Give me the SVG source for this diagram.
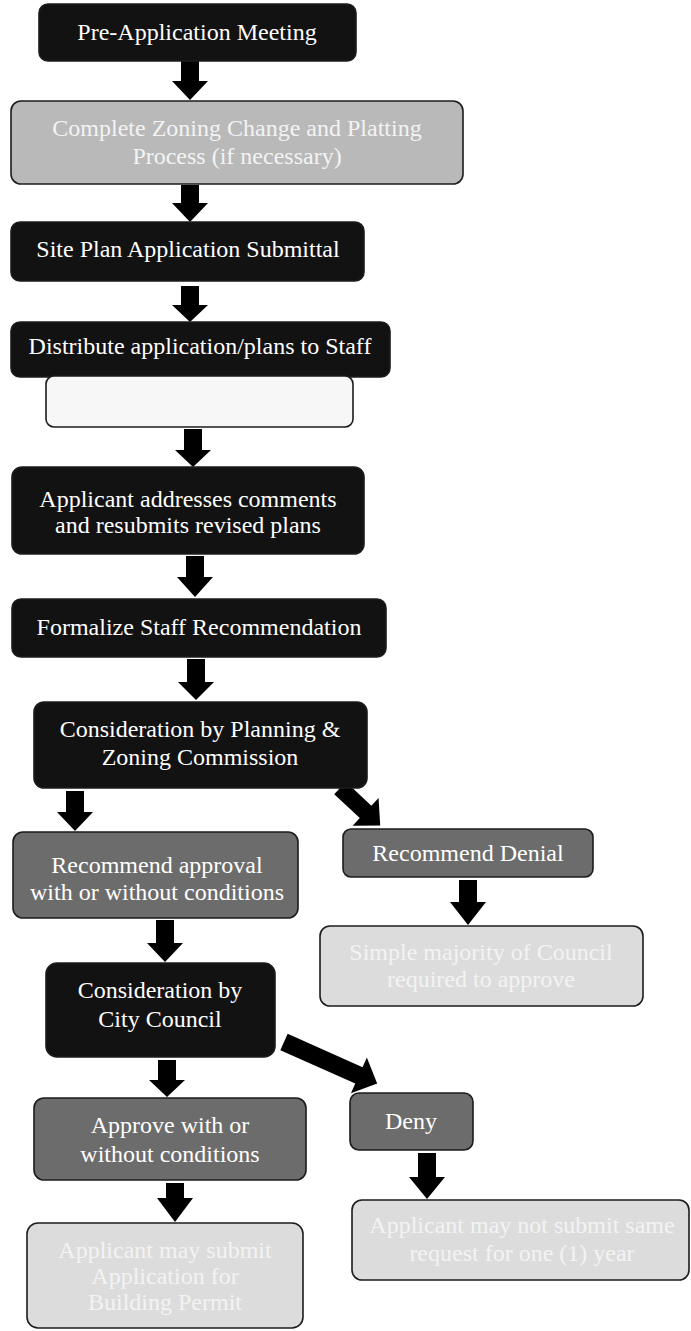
<svg xmlns="http://www.w3.org/2000/svg" width="691" height="1331" viewBox="0 0 691 1331">
<style>
.box{stroke:#1c1c1c;stroke-width:1.6}
.dark{fill:#121212}
.mid{fill:#6c6c6c}
.grey{fill:#b9b9b9}
.light{fill:#dcdcdc}
.white{fill:#f7f7f7}
.arr{fill:#000}
text{font-family:"Liberation Serif","Times New Roman",serif;font-size:24px;text-anchor:middle}
.t{fill:#ffffff}
.tl{fill:#f3f3f3}
</style>
<rect width="691" height="1331" fill="#ffffff"/>
<g id="connectors">
<polygon class="arr" points="181,61 199,61 199,81 208,81 190,100 172,81 181,81"/>
<polygon class="arr" points="181,185 199,185 199,203 208,203 190,222 172,203 181,203"/>
<polygon class="arr" points="181,286 199,286 199,305 208,305 190,322 172,305 181,305"/>
<polygon class="arr" points="184,429 202,429 202,450 211,450 193,467 175,450 184,450"/>
<polygon class="arr" points="186,556 204,556 204,577 213,577 195,597 177,577 186,577"/>
<polygon class="arr" points="187,659 205,659 205,682 214,682 196,700 178,682 187,682"/>
<polygon class="arr" points="66,791 84,791 84,812 93,812 75,831 57,812 66,812"/>
<polygon class="arr" transform="translate(340,788) rotate(43)" points="0,-8.5 35,-8.5 35,-19 55,0 35,19 35,8.5 0,8.5"/>
<polygon class="arr" points="459,880 477,880 477,902 486,902 468,925 450,902 459,902"/>
<polygon class="arr" points="156,920 174,920 174,943 183,943 165,962 147,943 156,943"/>
<polygon class="arr" points="158,1060 176,1060 176,1080 185,1080 167,1097 149,1080 158,1080"/>
<polygon class="arr" transform="translate(284,1042) rotate(24)" points="0,-9 82,-9 82,-19.5 102,0 82,19.5 82,9 0,9"/>
<polygon class="arr" points="418,1153 436,1153 436,1177 445,1177 427,1199 409,1177 418,1177"/>
<polygon class="arr" points="166,1183 184,1183 184,1198 193,1198 175,1222 157,1198 166,1198"/>
</g>
<g id="n-preapp">
<rect class="box dark" x="39" y="4" width="317" height="57" rx="9"/>
<text class="t" x="197" y="40">Pre-Application Meeting</text>
</g>
<g id="n-zoning">
<rect class="box grey" x="11" y="101" width="452" height="83" rx="10"/>
<text class="tl" x="237" y="136">Complete Zoning Change and Platting</text>
<text class="tl" x="237" y="164">Process (if necessary)</text>
</g>
<g id="n-siteplan">
<rect class="box dark" x="11" y="222" width="353" height="59" rx="9"/>
<text class="t" x="188" y="257">Site Plan Application Submittal</text>
</g>
<g id="n-distribute">
<rect class="box dark" x="11" y="322" width="379" height="55" rx="9"/>
<text class="t" x="200" y="354">Distribute application/plans to Staff</text>
</g>
<g id="n-blank">
<rect class="box white" x="46" y="376" width="307" height="51" rx="8"/>
</g>
<g id="n-addresses">
<rect class="box dark" x="12" y="467" width="352" height="87" rx="10"/>
<text class="t" x="188" y="507">Applicant addresses comments</text>
<text class="t" x="188" y="533">and resubmits revised plans</text>
</g>
<g id="n-formalize">
<rect class="box dark" x="12" y="599" width="374" height="58" rx="9"/>
<text class="t" x="199" y="635">Formalize Staff Recommendation</text>
</g>
<g id="n-pz">
<rect class="box dark" x="34" y="702" width="333" height="86" rx="10"/>
<text class="t" x="200" y="737">Consideration by Planning &amp;</text>
<text class="t" x="200" y="765">Zoning Commission</text>
</g>
<g id="n-recapprove">
<rect class="box mid" x="13" y="832" width="285" height="86" rx="10"/>
<text class="t" x="157" y="873">Recommend approval</text>
<text class="t" x="157" y="900">with or without conditions</text>
</g>
<g id="n-recdeny">
<rect class="box mid" x="343" y="829" width="250" height="48" rx="8"/>
<text class="t" x="468" y="861">Recommend Denial</text>
</g>
<g id="n-majority">
<rect class="box light" x="320" y="926" width="323" height="80" rx="10"/>
<text class="tl" x="481" y="960">Simple majority of Council</text>
<text class="tl" x="481" y="987">required to approve</text>
</g>
<g id="n-council">
<rect class="box dark" x="46" y="963" width="229" height="94" rx="11"/>
<text class="t" x="160" y="998">Consideration by</text>
<text class="t" x="160" y="1027">City Council</text>
</g>
<g id="n-approve">
<rect class="box mid" x="34" y="1098" width="272" height="82" rx="10"/>
<text class="t" x="170" y="1133">Approve with or</text>
<text class="t" x="170" y="1162">without conditions</text>
</g>
<g id="n-deny">
<rect class="box mid" x="350" y="1093" width="123" height="57" rx="9"/>
<text class="t" x="411" y="1129">Deny</text>
</g>
<g id="n-notsubmit">
<rect class="box light" x="352" y="1200" width="337" height="80" rx="10"/>
<text class="tl" x="522" y="1233">Applicant may not submit same</text>
<text class="tl" x="522" y="1261">request for one (1) year</text>
</g>
<g id="n-submit">
<rect class="box light" x="27" y="1223" width="276" height="105" rx="11"/>
<text class="tl" x="165" y="1258">Applicant may submit</text>
<text class="tl" x="165" y="1284">Application for</text>
<text class="tl" x="165" y="1310">Building Permit</text>
</g>
</svg>
